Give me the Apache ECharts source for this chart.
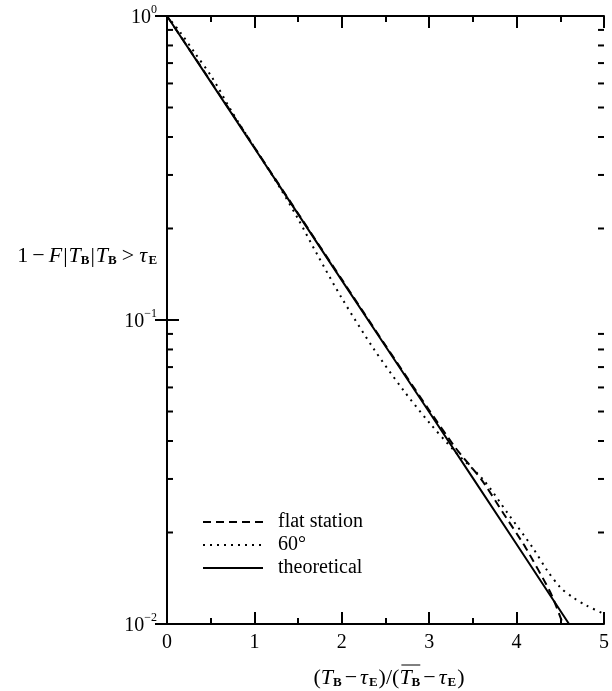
<!DOCTYPE html>
<html>
<head>
<meta charset="utf-8">
<script src="https://cdn.jsdelivr.net/npm/echarts@6/dist/echarts.min.js"></script>
<style>
  html, body { margin: 0; padding: 0; background: #fff; }
  #chart { width: 612px; height: 691px; }
</style>
</head>
<body>
<div id="chart"></div>
<script>
// Survival curves of the normalised break duration (log scale)
const seriesNames = ['flat station', '60°', 'theoretical'];

const flatX = [0, 0.5, 1, 1.5, 2, 2.5, 3, 3.3, 3.6, 3.85, 4.1, 4.39, 4.53];
const flatY = [1, 0.61, 0.37, 0.224, 0.136, 0.0825, 0.0505, 0.038, 0.0298, 0.0231, 0.0179, 0.01265, 0.0100];

const deg60X = [0, 0.15, 0.32, 0.52, 0.75, 1.0, 1.3, 1.5, 1.71, 2.0, 2.37, 2.7, 3.0, 3.3, 3.62, 3.9, 4.18, 4.35, 4.5, 4.65, 4.8, 5.0];
const deg60Y = [1, 0.885, 0.755, 0.625, 0.48, 0.37, 0.27, 0.215, 0.166, 0.118, 0.080, 0.059, 0.046, 0.0368, 0.0298, 0.0231, 0.0179, 0.0150, 0.0132, 0.0122, 0.0115, 0.0108];

const theoryX = [0, 0.5, 1, 1.5, 2, 2.5, 3, 3.5, 4, 4.6];
const theoryY = [1, 0.607, 0.368, 0.223, 0.135, 0.082, 0.0498, 0.0302, 0.0183, 0.0100];

// minor tick positions on the logarithmic axis (2..9 per decade)
const yMinorTicks = [0.02, 0.03, 0.04, 0.05, 0.06, 0.07, 0.08, 0.09,
                     0.2, 0.3, 0.4, 0.5, 0.6, 0.7, 0.8, 0.9];
const yTickLabels = { 1: '0', 0.1: '−1', 0.01: '−2' };

const FONT = '"Liberation Serif", "DejaVu Serif", "Times New Roman", serif';

const pairs = (xs, ys) => xs.map((x, i) => [x, ys[i]]);

// lay out a run of differently styled text pieces left-to-right
const measureCtx = document.createElement('canvas').getContext('2d');
function mathText(pieces, cx, cy) {
  const widths = pieces.map(p => {
    measureCtx.font = (p.bold ? 'bold ' : '') + (p.italic ? 'italic ' : '') + p.size + 'px ' + FONT;
    return measureCtx.measureText(p.t).width + (p.gap || 0);
  });
  const total = widths.reduce((a, b) => a + b, 0);
  let x = cx - total / 2;
  const children = [];
  let barStart = null;
  pieces.forEach((p, i) => {
    children.push({
      type: 'text', x: x + (p.gap || 0) / 2, y: cy + (p.dy || 0),
      style: {
        text: p.t, fill: '#000', fontFamily: FONT, fontSize: p.size,
        fontStyle: p.italic ? 'italic' : 'normal',
        fontWeight: p.bold ? 'bold' : 'normal',
        align: 'left', verticalAlign: 'middle'
      }
    });
    if (p.barStart) barStart = x;
    if (p.barEnd && barStart !== null) {
      children.push({
        type: 'line',
        shape: { x1: barStart + 2, y1: cy - 13, x2: x + widths[i], y2: cy - 13 },
        style: { stroke: '#000', lineWidth: 1 }
      });
    }
    x += widths[i];
  });
  return { type: 'group', children: children, silent: true };
}

const N = 22, S = 13;
const yTitle = mathText([
  { t: '1', size: N },
  { t: '−', size: N, gap: 8 },
  { t: 'F', size: N, italic: true },
  { t: '|', size: N, gap: 2 },
  { t: 'T', size: N, italic: true },
  { t: 'B', size: S, dy: 5, bold: true },
  { t: '|', size: N, gap: 2 },
  { t: 'T', size: N, italic: true },
  { t: 'B', size: S, dy: 5, bold: true },
  { t: '>', size: N, gap: 10 },
  { t: 'τ', size: N, italic: true },
  { t: 'E', size: S, dy: 5, bold: true, gap: 3 }
], 88, 256);

const xTitle = mathText([
  { t: '(', size: N },
  { t: 'T', size: N, italic: true },
  { t: 'B', size: S, dy: 5, bold: true },
  { t: '−', size: N, gap: 6 },
  { t: 'τ', size: N, italic: true },
  { t: 'E', size: S, dy: 5, bold: true, gap: 2 },
  { t: ')/(', size: N },
  { t: 'T', size: N, italic: true, barStart: true },
  { t: 'B', size: S, dy: 5, bold: true, barEnd: true },
  { t: '−', size: N, gap: 6 },
  { t: 'τ', size: N, italic: true },
  { t: 'E', size: S, dy: 5, bold: true, gap: 2 },
  { t: ')', size: N }
], 389, 678);

const axisLine = { show: true, lineStyle: { color: '#000', width: 2 } };
const majorTick = { show: true, inside: true, length: 12, lineStyle: { color: '#000', width: 2 } };
const halfTick = { show: true, splitNumber: 2, length: 6, lineStyle: { color: '#000', width: 2 } };

const chart = echarts.init(document.getElementById('chart'), null, { renderer: 'canvas' });

chart.setOption({
  animation: false,
  backgroundColor: '#fff',
  grid: { left: 167, right: 3, top: 16, bottom: 67 },
  legend: {
    data: seriesNames,
    orient: 'vertical',
    left: 197, top: 507,
    itemWidth: 60, itemHeight: 14, itemGap: 3,
    selectedMode: false,
    itemStyle: { color: 'rgba(0,0,0,0)', borderWidth: 0 },
    textStyle: { fontFamily: FONT, fontSize: 20, color: '#000', lineHeight: 20, padding: [0, 0, 0, 10] }
  },
  xAxis: [{
    type: 'value', min: 0, max: 5, interval: 1, position: 'bottom',
    axisLine: axisLine, axisTick: majorTick, minorTick: halfTick,
    splitLine: { show: false },
    axisLabel: { color: '#000', fontFamily: FONT, fontSize: 20, margin: 9 }
  }, {
    type: 'value', min: 0, max: 5, interval: 1, position: 'top',
    axisLine: axisLine, axisTick: majorTick, minorTick: halfTick,
    splitLine: { show: false },
    axisLabel: { show: false }
  }],
  yAxis: [{
    type: 'log', logBase: 10, min: 0.01, max: 1, position: 'left',
    axisLine: axisLine, axisTick: majorTick,
    splitLine: { show: false },
    axisLabel: {
      color: '#000', margin: 10,
      formatter: v => {
        const key = Object.keys(yTickLabels).find(k => Math.abs(parseFloat(k) - v) < v * 1e-6);
        return key ? '{b|10}{s|' + yTickLabels[key] + '}' : '';
      },
      rich: {
        b: { fontFamily: FONT, fontSize: 20, color: '#000', lineHeight: 24, verticalAlign: 'bottom' },
        s: { fontFamily: FONT, fontSize: 12, color: '#000', lineHeight: 24, verticalAlign: 'top' }
      }
    }
  }, {
    type: 'log', logBase: 10, min: 0.01, max: 1, position: 'right',
    axisLine: axisLine, axisTick: majorTick,
    splitLine: { show: false },
    axisLabel: { show: false }
  }],
  graphic: [yTitle, xTitle],
  series: [
    {
      name: 'flat station', type: 'line', xAxisIndex: 0, yAxisIndex: 0,
      data: pairs(flatX, flatY), showSymbol: false, symbol: 'none', smooth: 0.2,
      itemStyle: { color: '#000' },
      lineStyle: { color: '#000', width: 2, type: [8, 5] }, z: 3
    },
    {
      name: '60°', type: 'line', xAxisIndex: 0, yAxisIndex: 0,
      data: pairs(deg60X, deg60Y), showSymbol: false, symbol: 'none', smooth: 0.3,
      itemStyle: { color: '#000' },
      lineStyle: { color: '#000', width: 2, type: [2, 5] }, z: 3
    },
    {
      name: 'theoretical', type: 'line', xAxisIndex: 0, yAxisIndex: 0,
      data: pairs(theoryX, theoryY), showSymbol: false, symbol: 'none',
      itemStyle: { color: '#000' },
      lineStyle: { color: '#000', width: 2, type: 'solid' }, z: 4
    },
    {
      // short inward minor ticks on both vertical edges of the log axis
      name: 'minor ticks', type: 'custom', xAxisIndex: 0, yAxisIndex: 0,
      silent: true, clip: false, z: 5,
      data: yMinorTicks.map(v => [v]),
      encode: { y: 0 },
      renderItem: (params, api) => {
        const v = api.value(0);
        const l = api.coord([0, v]);
        const r = api.coord([5, v]);
        return {
          type: 'group',
          children: [
            { type: 'line', shape: { x1: l[0], y1: l[1], x2: l[0] + 6, y2: l[1] }, style: { stroke: '#000', lineWidth: 2 } },
            { type: 'line', shape: { x1: r[0], y1: r[1], x2: r[0] - 6, y2: r[1] }, style: { stroke: '#000', lineWidth: 2 } }
          ]
        };
      }
    }
  ]
});
</script>
</body>
</html>
